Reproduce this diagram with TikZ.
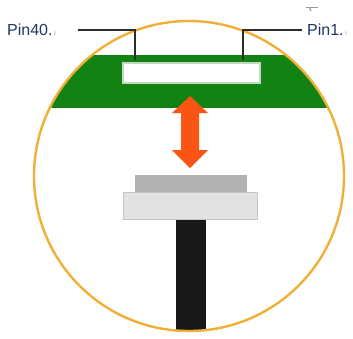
\documentclass[tikz,border=0pt]{standalone}
\usepackage{fontspec}
\setmainfont{Liberation Sans}
\definecolor{boardgreen}{RGB}{18,130,18}
\definecolor{ringgold}{RGB}{240,176,56}
\definecolor{arroworange}{RGB}{250,85,20}
\definecolor{labelblue}{RGB}{30,55,100}
\definecolor{leadergray}{RGB}{45,45,45}
\definecolor{padgray}{RGB}{178,178,178}
\definecolor{platelight}{RGB}{226,226,226}
\definecolor{plateedge}{RGB}{196,196,196}
\definecolor{slotedge}{RGB}{196,216,196}
\definecolor{markgray}{RGB}{150,150,150}
\begin{document}
\begin{tikzpicture}[x=1pt,y=-1pt,
  pinlabel/.style={font=\fontsize{16}{18}\selectfont, text=labelblue, inner sep=0pt, anchor=west},
  parmark/.style={font=\fontsize{7}{8}\selectfont, text=markgray, inner sep=0pt, anchor=south west},
  leader/.style={draw=leadergray, line width=1.3pt},
  ring/.style={draw=ringgold, line width=2.4pt}]
\useasboundingbox (0,0) rectangle (353,338);

% green board band, cut by the round frame
\begin{scope}
  \clip (189,176) circle (155);
  \fill[boardgreen] (0,55) rectangle (353,108);
  % black cable stem
  \fill[black!90] (176,219) rectangle (206,340);
\end{scope}

% white connector slot on the board
\draw[slotedge, line width=1.5pt, fill=white] (123,63) rectangle (260,83);

% orange double arrow
\fill[arroworange] (190,96) -- (208,113) -- (199,113) -- (199,150)
  -- (208,150) -- (190,168) -- (172,150) -- (181,150) -- (181,113)
  -- (172,113) -- cycle;

% FPC plug: contact pad and stiffener plate
\fill[padgray] (135,175) rectangle (247,192);
\draw[plateedge, line width=1pt, fill=platelight] (123,192) rectangle (257,219);

% round frame
\draw[ring] (189,176) circle (155);

% pin labels and leader lines
\node[pinlabel] (p40) at (7,30) {Pin40.};
\node[parmark] at (p40.south east) {\,ı};
\node[pinlabel] (p1) at (307,30) {Pin1.};
\node[parmark] at (p1.south east) {\,ı};
\coordinate (p40end) at (135,60);
\coordinate (p1end) at (243,60);
\draw[leader] (78,30) -| (p40end);
\draw[leader] (p1.west) ++(-5,0) -- (243,30) -- (p1end);

% small anchor mark
\draw[markgray, line width=1pt] (306,7) -- (318,7);
\draw[markgray, line width=1pt] (309,7) -- (311,11);
\end{tikzpicture}
\end{document}
